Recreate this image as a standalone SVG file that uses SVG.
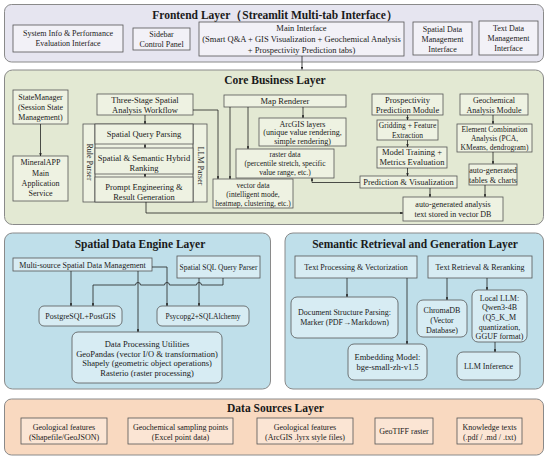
<svg xmlns="http://www.w3.org/2000/svg" width="550" height="459" viewBox="0 0 550 459">
<defs>
<marker id="a" viewBox="0 0 6 6" refX="6" refY="3" markerWidth="3.5" markerHeight="3.5" orient="auto"><path d="M0,0 L6,3 L0,6 z" fill="#222"/></marker>
<style>
text{font-family:"Liberation Serif","Times New Roman",serif;fill:#1a1a1a;text-anchor:middle}
.t{font-size:8px}
.m{font-size:8.5px}
.s{font-size:7.5px}
.h{font-size:11.5px;font-weight:bold}
.v{font-size:8px}
.L{stroke:#8a8a8a;stroke-width:1}
.fe{fill:#E6E5F0}.feb{fill:#F2F1F7;stroke:#555;stroke-width:0.8}
.co{fill:#E3E9D3}.cob{fill:#EEF2E2;stroke:#555;stroke-width:0.8}
.sp{fill:#BFDFEA}.spb{fill:#D7ECF3;stroke:#555;stroke-width:0.8}
.ds{fill:#F9D9C0}.dsb{fill:#FBE5D4;stroke:#555;stroke-width:0.8}
.c{fill:none;stroke:#222;stroke-width:0.8}
.ca{fill:none;stroke:#222;stroke-width:0.8;marker-end:url(#a)}
</style>
</defs>

<!-- Layers -->
<g id="frontend-layer">
<rect class="fe L" x="4.5" y="4.5" width="539" height="57.5" rx="7"/>
<text class="h" x="275" y="19">Frontend Layer（Streamlit Multi-tab Interface）</text>
</g>
<g id="core-layer">
<rect class="co L" x="4.5" y="70" width="539" height="154.5" rx="8"/>
<text class="h" x="275" y="84">Core Business Layer</text>
</g>
<g id="spatial-layer">
<rect class="sp L" x="4.5" y="233" width="266" height="156" rx="8"/>
<text class="h" x="140" y="248">Spatial Data Engine Layer</text>
</g>
<g id="semantic-layer">
<rect class="sp L" x="285" y="233" width="258.5" height="156" rx="8"/>
<text class="h" x="415" y="248">Semantic Retrieval and Generation Layer</text>
</g>
<g id="datasource-layer">
<rect class="ds L" x="4.5" y="399" width="539" height="56" rx="7"/>
<text class="h" x="275.5" y="412">Data Sources  Layer</text>
</g>

<!-- Frontend nodes -->
<g id="system-info"><rect class="feb" x="13" y="25" width="110" height="27"/>
<text class="t" x="68" y="36">System Info &amp; Performance</text><text class="t" x="68" y="46">Evaluation Interface</text></g>
<g id="sidebar"><rect class="feb" x="133" y="28" width="57" height="22"/>
<text class="t" x="161.5" y="36.5">Sidebar</text><text class="t" x="161.5" y="46.5">Control Panel</text></g>
<g id="main-interface"><rect class="feb" x="199" y="22" width="205" height="34"/>
<text class="m" x="301.5" y="30.5">Main Interface</text><text class="m" x="301.5" y="41.5">(Smart Q&amp;A + GIS Visualization + Geochemical Analysis</text><text class="m" x="301.5" y="52.5">+ Prospectivity Prediction tabs)</text></g>
<g id="spatial-data-interface"><rect class="feb" x="413" y="22" width="59" height="33"/>
<text class="t" x="442.5" y="31.5">Spatial Data</text><text class="t" x="442.5" y="41.5">Management</text><text class="t" x="442.5" y="51.5">Interface</text></g>
<g id="text-data-interface"><rect class="feb" x="479" y="21" width="59" height="34"/>
<text class="t" x="508.5" y="31">Text Data</text><text class="t" x="508.5" y="41">Management</text><text class="t" x="508.5" y="51">Interface</text></g>

<!-- Core nodes -->
<g id="state-manager"><rect class="cob" x="13" y="90" width="55" height="34"/>
<text class="t" x="40.5" y="100">StateManager</text><text class="t" x="40.5" y="110">(Session State</text><text class="t" x="40.5" y="120">Management)</text></g>
<g id="mineralapp"><rect class="cob" x="13" y="156" width="55" height="45"/>
<text class="t" x="40.5" y="165">MineralAPP</text><text class="t" x="40.5" y="175.5">Main</text><text class="t" x="40.5" y="186">Application</text><text class="t" x="40.5" y="196">Service</text></g>
<g id="three-stage"><rect class="cob" x="97" y="94" width="96" height="21"/>
<text class="m" x="145" y="103">Three-Stage Spatial</text><text class="m" x="145" y="113">Analysis Workflow</text></g>
<g id="parser-container"><rect class="cob" x="83" y="124" width="124" height="78"/>
<line class="c" x1="95" y1="124" x2="95" y2="202"/><line class="c" x1="193" y1="124" x2="193" y2="202"/>
<text class="v" transform="translate(86.5,162) rotate(90)">Rule  Parser</text>
<text class="v" transform="translate(197.5,166) rotate(90)">LLM Parser</text></g>
<g id="spatial-query-parsing"><rect class="cob" x="95" y="124" width="98" height="20"/>
<text class="m" x="144" y="137">Spatial Query Parsing</text></g>
<g id="hybrid-ranking"><rect class="cob" x="95" y="148" width="98" height="26"/>
<text class="m" x="144" y="161">Spatial &amp; Semantic Hybrid</text><text class="m" x="144" y="171">Ranking</text></g>
<g id="prompt-engineering"><rect class="cob" x="95" y="177" width="98" height="25"/>
<text class="m" x="144" y="190">Prompt Engineering &amp;</text><text class="m" x="144" y="199.5">Result Generation</text></g>
<g id="map-renderer"><rect class="cob" x="224" y="95" width="122" height="12"/>
<text class="m" x="285" y="103.5">Map Renderer</text></g>
<g id="arcgis-layers"><rect class="cob" x="259" y="118" width="87" height="28"/>
<text class="t" x="302.5" y="126.5">ArcGIS layers</text><text class="t" x="302.5" y="135">(unique value rendering,</text><text class="t" x="302.5" y="143.5">simple rendering)</text></g>
<g id="raster-data"><rect class="cob" x="236" y="149" width="98" height="29"/>
<text class="s" x="285" y="156.5">raster data</text><text class="s" x="285" y="166">(percentile stretch, specific</text><text class="s" x="285" y="175">value range, etc.)</text></g>
<g id="vector-data"><rect class="cob" x="213" y="179" width="80" height="29"/>
<text class="s" x="253" y="188">vector data</text><text class="s" x="253" y="197">(intelligent mode,</text><text class="s" x="253" y="206">heatmap, clustering, etc.)</text></g>
<g id="prospectivity-module"><rect class="cob" x="372" y="94" width="71" height="21"/>
<text class="m" x="407.5" y="102.5">Prospectivity</text><text class="m" x="407.5" y="112.5">Prediction Module</text></g>
<g id="gridding"><rect class="cob" x="377" y="120" width="61" height="20"/>
<text class="s" x="407.5" y="128">Gridding + Feature</text><text class="s" x="407.5" y="137.5">Extraction</text></g>
<g id="model-training"><rect class="cob" x="377" y="147" width="70" height="21"/>
<text class="m" x="412" y="155">Model Training +</text><text class="m" x="412" y="165">Metrics Evaluation</text></g>
<g id="prediction-viz"><rect class="cob" x="360" y="176" width="97" height="12"/>
<text class="m" x="408.5" y="184.5">Prediction &amp; Visualization</text></g>
<g id="geochem-module"><rect class="cob" x="460" y="94" width="68" height="21"/>
<text class="t" x="494" y="102.5">Geochemical</text><text class="t" x="494" y="112.5">Analysis Module</text></g>
<g id="element-combination"><rect class="cob" x="457" y="124" width="75" height="28"/>
<text class="s" x="494.5" y="132">Element Combination</text><text class="s" x="494.5" y="141">Analysis (PCA,</text><text class="s" x="494.5" y="150">KMeans, dendrogram)</text></g>
<g id="tables-charts"><rect class="cob" x="469" y="164" width="48" height="21"/>
<text class="t" x="493" y="173">auto-generated</text><text class="t" x="493" y="183">tables &amp; charts</text></g>
<g id="analysis-text"><rect class="cob" x="403" y="197" width="100" height="24"/>
<text class="t" x="453" y="207">auto-generated analysis</text><text class="t" x="453" y="216.5">text stored in vector DB</text></g>

<!-- Spatial engine nodes -->
<g id="multi-source"><rect class="spb" x="13" y="258" width="139" height="13"/>
<text class="t" x="82.5" y="267.5">Multi-source Spatial Data Management</text></g>
<g id="sql-parser"><rect class="spb" x="177" y="256" width="83" height="22"/>
<text class="s" x="218.5" y="269.5">Spatial SQL Query Parser</text></g>
<g id="postgresql"><rect class="spb" x="39" y="306" width="83" height="20" rx="5"/>
<text class="t" x="80.5" y="319">PostgreSQL+PostGIS</text></g>
<g id="psycopg2"><rect class="spb" x="157" y="306" width="92" height="20" rx="5"/>
<text class="s" x="203" y="319">Psycopg2+SQLAlchemy</text></g>
<g id="data-processing"><rect class="spb" x="72" y="332" width="150" height="51" rx="6"/>
<text class="m" x="147" y="346.5">Data Processing Utilities</text><text class="m" x="147" y="356.5">GeoPandas (vector I/O &amp; transformation)</text><text class="m" x="147" y="366">Shapely (geometric object operations)</text><text class="m" x="147" y="375.5">Rasterio (raster processing)</text></g>

<!-- Semantic nodes -->
<g id="text-processing"><rect class="spb" x="295" y="256" width="122" height="22"/>
<text class="t" x="356" y="270">Text Processing &amp; Vectorization</text></g>
<g id="text-retrieval"><rect class="spb" x="428" y="256" width="104" height="22"/>
<text class="t" x="480" y="270">Text Retrieval &amp; Reranking</text></g>
<g id="doc-parsing"><rect class="spb" x="291" y="297" width="107" height="41" rx="6"/>
<text class="t" x="344.5" y="315">Document Structure Parsing:</text><text class="t" x="344.5" y="325">Marker (PDF→Markdown)</text></g>
<g id="embedding"><rect class="spb" x="348" y="344" width="79" height="36" rx="6"/>
<text class="m" x="387.5" y="359.5">Embedding Model:</text><text class="m" x="387.5" y="370">bge-small-zh-v1.5</text></g>
<g id="chromadb"><rect class="spb" x="417" y="300" width="50" height="37" rx="6"/>
<text class="t" x="442" y="313">ChromaDB</text><text class="t" x="442" y="323">(Vector</text><text class="t" x="442" y="333">Database)</text></g>
<g id="local-llm"><rect class="spb" x="472" y="290" width="55" height="52" rx="6"/>
<text class="t" x="499.5" y="300.5">Local LLM:</text><text class="t" x="499.5" y="310">Qwen3-4B</text><text class="t" x="499.5" y="320">(Q5_K_M</text><text class="t" x="499.5" y="329.5">quantization,</text><text class="t" x="499.5" y="339">GGUF format)</text></g>
<g id="llm-inference"><rect class="spb" x="457" y="352" width="63" height="28" rx="6"/>
<text class="t" x="488.5" y="369">LLM Inference</text></g>

<!-- Data sources nodes -->
<g id="ds-geo"><rect class="dsb" x="21" y="418" width="86" height="26"/>
<text class="t" x="64" y="429.5">Geological features</text><text class="t" x="64" y="439.5">(Shapefile/GeoJSON)</text></g>
<g id="ds-geochem"><rect class="dsb" x="128" y="418" width="105" height="26"/>
<text class="t" x="180.5" y="429.5">Geochemical sampling points</text><text class="t" x="180.5" y="439.5">(Excel point data)</text></g>
<g id="ds-lyrx"><rect class="dsb" x="257" y="418" width="96" height="26"/>
<text class="t" x="305" y="429.5">Geological features</text><text class="t" x="305" y="439.5">(ArcGIS .lyrx style files)</text></g>
<g id="ds-geotiff"><rect class="dsb" x="375" y="418" width="58" height="26"/>
<text class="t" x="404" y="434">GeoTIFF raster</text></g>
<g id="ds-knowledge"><rect class="dsb" x="457" y="418" width="65" height="26"/>
<text class="t" x="489.5" y="429.5">Knowledge texts</text><text class="t" x="489.5" y="439.5">(.pdf / .md / .txt)</text></g>

<!-- Connectors -->
<g id="connectors">
<path class="ca" d="M302,56 V69.5"/>
<path class="ca" d="M40.5,124 V156"/>
<path class="ca" d="M145,115 V124"/>
<path class="ca" d="M145,144 V148"/>
<path class="ca" d="M145,174 V177"/>
<path class="ca" d="M193,110 H218 V179"/>
<path class="ca" d="M230,107 V179"/>
<path class="ca" d="M248,107 V149"/>
<path class="ca" d="M303,107 V118"/>
<path class="ca" d="M360,182.5 H312 V178"/>
<path class="ca" d="M146,202 V213 H403"/>
<path class="ca" d="M407.5,115 V120"/>
<path class="ca" d="M407.5,140 V147"/>
<path class="ca" d="M407.5,168 V176"/>
<path class="ca" d="M493,115 V124"/>
<path class="ca" d="M493,152 V164"/>
<path class="ca" d="M430,188 V197"/>
<path class="ca" d="M485,185 V197"/>
<path class="ca" d="M71,271 V306"/>
<path class="ca" d="M138,271 V332"/>
<path class="ca" d="M152,267 H167 V306"/>
<path class="ca" d="M199,278 V306"/>
<path class="ca" d="M223,278 V285 H201.5 A2.5,2.5 0 0 0 196.5,285 H169.5 A2.5,2.5 0 0 0 164.5,285 H140.5 A2.5,2.5 0 0 0 135.5,285 H93 V306"/>
<path class="ca" d="M347,278 V297"/>
<path class="ca" d="M407,278 V344"/>
<path class="ca" d="M447,278 V300"/>
<path class="ca" d="M487,278 V290"/>
<path class="ca" d="M495,342 V352"/>
</g>
</svg>
